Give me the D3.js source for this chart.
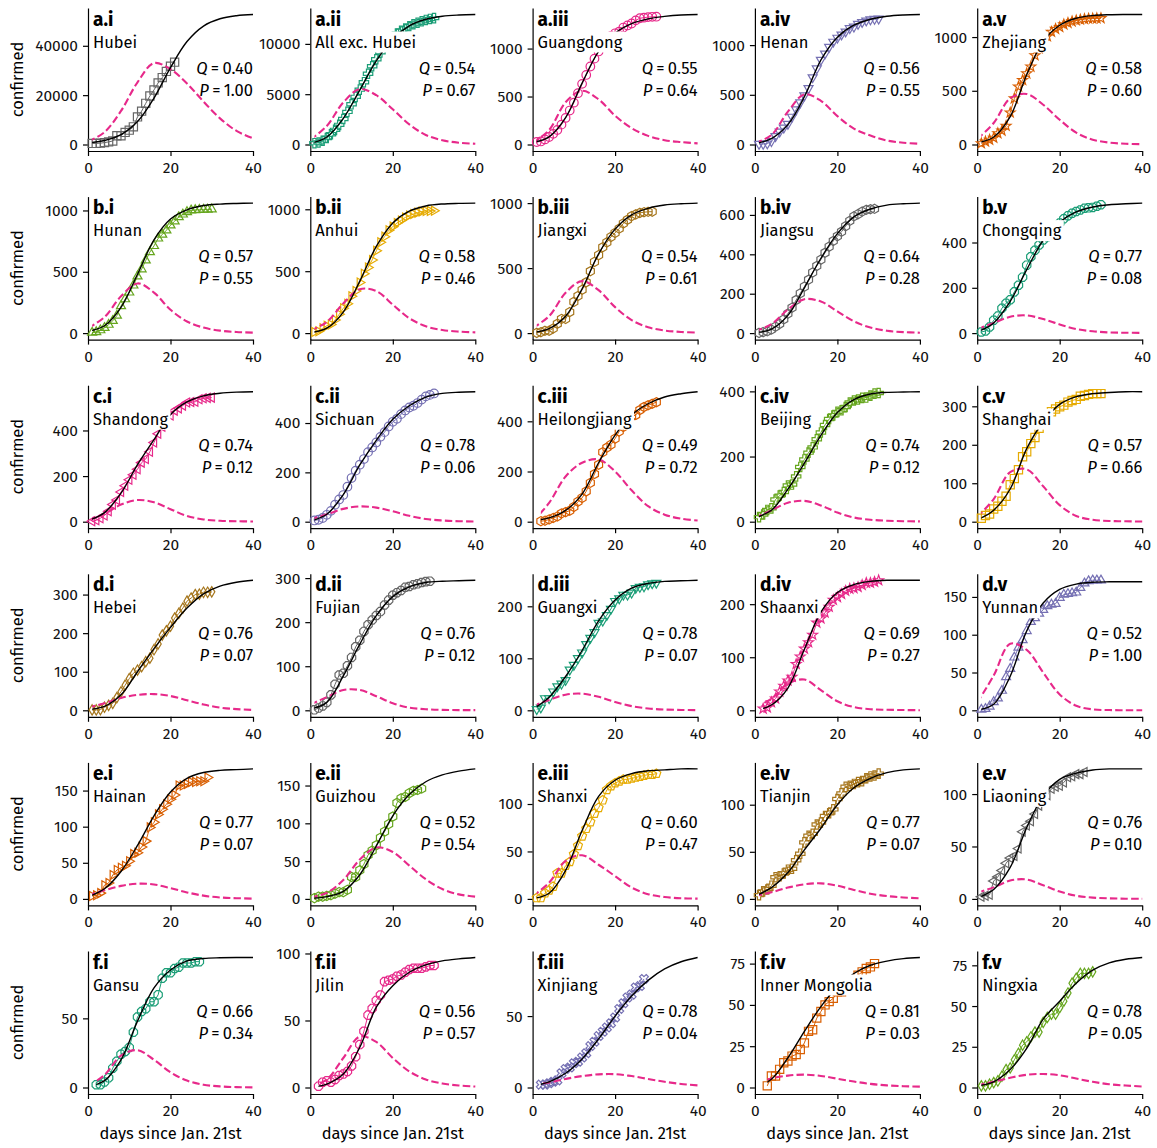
<!DOCTYPE html>
<html><head><meta charset="utf-8">
<script src="https://cdn.jsdelivr.net/npm/d3@7"></script>
<style>
body{margin:0;background:#fff;}
svg{font-family:"Fira Sans",Roboto,"Noto Sans",sans-serif;}
</style></head><body>
<svg id="chart" width="1157" height="1148"></svg>
<script>
// ---------------- DATA ----------------
const panelIds = ["a.i","a.ii","a.iii","a.iv","a.v","b.i","b.ii","b.iii","b.iv","b.v",
  "c.i","c.ii","c.iii","c.iv","c.v","d.i","d.ii","d.iii","d.iv","d.v",
  "e.i","e.ii","e.iii","e.iv","e.v","f.i","f.ii","f.iii","f.iv","f.v"];
const regionNames = ["Hubei","All exc. Hubei","Guangdong","Henan","Zhejiang","Hunan","Anhui","Jiangxi","Jiangsu","Chongqing",
  "Shandong","Sichuan","Heilongjiang","Beijing","Shanghai","Hebei","Fujian","Guangxi","Shaanxi","Yunnan",
  "Hainan","Guizhou","Shanxi","Tianjin","Liaoning","Gansu","Jilin","Xinjiang","Inner Mongolia","Ningxia"];
const qValues = ["0.40","0.54","0.55","0.56","0.58","0.57","0.58","0.54","0.64","0.77",
  "0.74","0.78","0.49","0.74","0.57","0.76","0.76","0.78","0.69","0.52",
  "0.77","0.52","0.60","0.77","0.76","0.66","0.56","0.78","0.81","0.78"];
const pValues = ["1.00","0.67","0.64","0.55","0.60","0.55","0.46","0.61","0.28","0.08",
  "0.12","0.06","0.72","0.12","0.66","0.07","0.12","0.07","0.27","1.00",
  "0.07","0.54","0.47","0.07","0.10","0.34","0.57","0.04","0.03","0.05"];
const yTicks = [[0,20000,40000],[0,5000,10000],[0,500,1000],[0,500,1000],[0,500,1000],
  [0,500,1000],[0,500,1000],[0,500,1000],[0,200,400,600],[0,200,400],
  [0,200,400],[0,200,400],[0,200,400],[0,200,400],[0,100,200,300],
  [0,100,200,300],[0,100,200,300],[0,100,200],[0,100,200],[0,50,100,150],
  [0,50,100,150],[0,50,100,150],[0,50,100],[0,50,100],[0,50,100],
  [0,50],[0,50,100],[0,50],[0,25,50,75],[0,25,50,75]];
const xTicks = [0,20,40];
// first day of the observed series (days since Jan. 21st)
const dataStart = [1,1,1,1,1,1,1,1,1,1, 1,1,2,1,1,1,1,1,2,1, 1,1,1,1,1,2,2,2,3,1];
// observed confirmed cases, one value per day from dataStart
const observed = [
 [444,444,549,761,1058,1423,3554,3554,4903,5806,7153,11177,13522,16678,19665,22112,24953,27100,29631,31728,33366],
 [127,199,371,645,1017,1454,1955,2533,3238,3996,4738,5453,6194,7029,7775,8475,9157,9714,10198,10626,11020,11300,11530,11750,11950,12100,12250,12380,12480,12560],
 [26,32,53,78,111,151,207,277,354,436,535,632,725,813,895,970,1034,1095,1131,1159,1177,1219,1241,1261,1294,1316,1322,1328,1331,1332],
 [5,5,9,32,83,128,168,206,278,352,422,493,566,675,764,851,914,981,1033,1073,1105,1135,1169,1184,1212,1231,1246,1257,1262,1265],
 [10,27,43,62,104,128,173,296,428,538,599,661,724,829,895,954,1006,1048,1075,1092,1117,1131,1145,1155,1162,1167,1171,1172,1174,1175],
 [4,9,24,43,69,100,143,221,277,332,389,463,521,593,661,711,772,803,838,879,912,946,968,988,1001,1004,1006,1007,1008,1010],
 [9,15,39,60,70,106,152,200,237,297,340,408,480,530,591,665,733,779,830,860,889,910,934,950,962,973,982,986,987,989],
 [2,7,18,18,36,72,109,109,162,240,286,333,391,476,548,600,661,698,740,771,804,844,872,900,913,925,930,933,934],
 [1,5,9,18,33,47,70,99,129,168,202,236,271,308,341,373,408,439,468,492,515,543,570,593,604,617,626,629,631],
 [5,9,27,57,75,110,132,147,182,211,247,300,337,366,389,411,426,428,468,486,505,518,529,537,544,551,553,555,560,567],
 [2,6,15,27,46,75,95,130,158,184,206,230,259,275,307,347,386,416,444,466,487,497,509,523,525,526,537,541,543,544],
 [5,8,15,28,44,69,90,108,142,177,207,231,254,282,301,321,344,363,386,405,417,436,451,463,470,481,495,508,514,520],
 [2,4,9,15,21,33,38,44,59,80,95,121,155,190,227,277,295,307,331,360,378,395,419,425,445,457,464,470,476],
 [14,22,36,41,68,80,91,111,114,139,168,191,212,228,253,274,297,315,326,337,342,352,366,372,375,380,381,387,393,395],
 [9,16,20,33,40,53,66,96,112,135,169,182,203,219,243,257,277,286,293,299,303,311,315,318,326,328,331,333,333,333],
 [1,1,2,8,13,18,33,48,65,82,96,104,113,126,135,157,172,195,206,218,239,251,265,283,291,300,301,306,306,307],
 [1,5,10,18,35,59,80,84,101,120,144,159,179,194,205,215,224,239,250,261,267,272,279,281,285,287,290,292,293],
 [2,5,23,23,36,46,51,58,78,87,100,111,127,139,150,168,172,183,195,210,215,222,222,226,235,237,238,242,244,245],
 [3,5,15,22,35,46,56,63,87,101,116,128,142,165,173,184,195,208,213,219,225,229,230,232,236,240,240,242,245],
 [1,2,5,11,16,26,44,55,70,83,93,105,117,122,128,133,138,140,141,149,153,154,155,156,162,168,171,172,172,172],
 [4,5,8,19,22,33,40,43,46,52,62,64,72,80,99,106,117,124,131,138,144,157,157,159,162,162,163,163,168],
 [1,3,3,4,5,7,9,9,12,29,29,38,46,58,64,71,81,89,99,109,127,133,135,140,143,144,146],
 [1,1,6,9,13,27,27,35,39,47,56,66,74,81,90,96,104,115,119,122,124,126,126,127,128,129,130,131,131,132],
 [4,8,10,14,23,24,27,31,32,41,48,60,67,69,79,81,88,91,95,106,112,119,120,122,124,125,128,130,131,133],
 [2,3,4,17,21,27,34,39,41,48,64,70,74,81,89,94,99,105,107,108,111,116,117,119,119,121],
 [2,2,4,7,14,19,24,26,29,40,51,55,57,62,62,67,79,83,83,86,87,90,90,90,91,91],
 [1,4,5,4,6,9,10,12,16,23,32,42,54,59,65,69,79,80,81,83,84,86,88,89,89,89,90,91,91],
 [2,2,3,4,5,10,13,14,17,18,21,24,29,32,36,39,42,45,49,55,59,63,65,70,71,76],
 [1,7,7,11,15,16,19,20,23,27,34,35,42,46,50,52,54,58,58,60,61,65,68,70,72,73,75],
 [1,1,2,3,4,7,11,12,17,21,26,28,31,34,34,40,43,45,45,49,53,58,64,67,70,70,70,71]
];
// model curves sampled every 4 days (days 0..40)
const curveDays = [0,4,8,12,16,20,24,28,32,36,40];
const fitValues = [
 [640,1630,4020,9300,18840,31150,41720,48000,50950,52190,52680],
 [100,750,2600,5400,8300,10500,11800,12450,12750,12870,12920],
 [20,80,280,640,970,1160,1260,1310,1335,1350,1355],
 [10,60,200,480,850,1080,1200,1260,1290,1303,1308],
 [15,70,260,650,960,1110,1175,1200,1208,1210,1210],
 [15,60,210,480,760,930,1005,1040,1052,1057,1060],
 [5,40,170,420,700,890,985,1027,1043,1048,1050],
 [5,35,130,340,610,800,910,960,985,995,1000],
 [3,20,90,230,380,505,590,630,650,657,660],
 [5,45,140,280,410,490,535,557,567,571,574],
 [5,40,125,250,360,470,525,552,563,568,570],
 [3,30,110,230,330,415,470,505,520,525,527],
 [5,15,45,110,235,345,425,470,497,510,518],
 [12,35,100,180,265,335,375,392,397,398,399],
 [5,30,85,190,260,305,325,333,336,338,338],
 [2,10,40,100,160,215,265,302,322,332,337],
 [3,18,78,150,215,258,280,290,293,294,295],
 [2,25,65,115,172,212,235,244,248,249,250],
 [0,10,42,115,185,222,237,243,245,245,245],
 [0.5,8,45,105,142,160,167,169.5,170,170,170],
 [3,14,38,74,115,148,167,175,178,179,180],
 [0.5,3,10,32,70,110,138,155,164,169,172],
 [0.5,6,30,72,108,125,132,135,136,137,137],
 [3,12,28,52,75,100,118,128,134,137,138],
 [1,9,30,68,98,114,120,123,124,124,124],
 [0.5,5,20,48,72,85,91.5,93.3,93.8,94,94],
 [0,2.5,10,30,60,76,86,91.5,94.5,96,97],
 [1,4,10,20,34,50,64,75,83,88,91],
 [0,5,18,34,49,61,69,74,76.5,78,78.7],
 [1,3.5,11,24,42,53,64,72,76.5,78.7,79.8]
];
const infectedValues = [
 [1200,5000,13600,25200,33000,30500,24700,17400,10600,5500,2500],
 [470,1840,4180,5500,4900,3500,2000,950,420,180,80],
 [20,150,440,560,470,300,170,90,45,25,12],
 [15,95,330,505,440,285,160,90,40,18,8],
 [50,200,430,470,370,230,110,45,18,7,3],
 [40,130,300,405,330,190,95,45,20,9,4],
 [20,90,240,355,340,230,120,55,25,12,6],
 [40,130,310,400,330,200,100,45,20,9,4],
 [10,45,120,172,160,110,60,28,12,5,2],
 [18,45,72,78,62,38,18,8,3,1.5,1],
 [10,35,75,95,85,55,25,10,4,2,1],
 [10,30,52,62,57,42,24,11,5,2,1],
 [0,75,180,235,248,200,125,62,28,12,5],
 [12,35,58,64,50,28,13,6,3,1.5,1],
 [12,59,129,136,92,43,15,5,2,1,0.5],
 [7,18,32,40,42,37,26,15,7,3,1],
 [13,30,46,46,32,16,6,2.5,1,0.5,0.3],
 [8,20,30,32,26,16,8,3.5,1.5,0.7,0.3],
 [5,22,50,58,38,17,6,2,1,0.5,0.2],
 [10,46,88,80,50,21,6,1.2,0.3,0.1,0.05],
 [5,12,18,21,20,15,9,4.5,2,1,0.4],
 [2,8,25,52,68,62,44,26,13,6,3],
 [3,17,40,46,36,24,12,5,2,0.7,0.3],
 [3,7,12,15.5,16.5,14,9.5,5.5,3,1.5,0.7],
 [6,11,17.5,18.5,13,7,3,1.2,0.5,0.2,0.1],
 [1,9,23,27,20,11,5,2,0.8,0.3,0.1],
 [0.5,6,22,38,34,22,12,6,3,1.5,0.7],
 [2,3.5,6,8,9.2,9.3,8,6,4,2.5,1.5],
 [3,5.5,7.2,7.8,7,5.3,3.6,2.2,1.3,0.8,0.5],
 [1.5,3.5,6,7.8,8.3,7.5,5.5,3.5,2,1.2,0.6]
];

// ---------------- STYLE ----------------
const palette = ["#666666","#1b9e77","#e7298a","#7570b3","#d95f02","#66a61e","#e6ab02","#a6761d"];
const markerTypes = ["square","plus","circle","triDown","star","triUp","triRight","hexagon","hexagon","octagon",
  "triLeft","circle","hexagon","plus","square","diamond","octagon","triDown","star","triUp",
  "triRight","hexagon","pentagon","plus","triLeft","octagon","octagon","xmark","square","diamond"];
const PINK = "#e7298a";

function poly(n, r, rotDeg) {
  const pts = [];
  for (let k = 0; k < n; k++) {
    const a = (rotDeg + k * 360 / n) * Math.PI / 180;
    pts.push([(r * Math.cos(a)).toFixed(2), (r * Math.sin(a)).toFixed(2)]);
  }
  return "M" + pts.map(p => p.join(",")).join("L") + "Z";
}
function crossPath(a, w, rot) {
  const base = [[-w,-a],[w,-a],[w,-w],[a,-w],[a,w],[w,w],[w,a],[-w,a],[-w,w],[-a,w],[-a,-w],[-w,-w]];
  const c = Math.cos(rot), s = Math.sin(rot);
  return "M" + base.map(([x,y]) => [(x*c - y*s).toFixed(2), (x*s + y*c).toFixed(2)].join(",")).join("L") + "Z";
}
function markerPath(t) {
  switch (t) {
    case "square": return "M-4.1,-4.1H4.1V4.1H-4.1Z";
    case "circle": return "M4.3,0A4.3,4.3 0 1,1 -4.3,0A4.3,4.3 0 1,1 4.3,0Z";
    case "triUp": return poly(3, 5.2, -90);
    case "triDown": return poly(3, 5.2, 90);
    case "triLeft": return poly(3, 5.2, 180);
    case "triRight": return poly(3, 5.2, 0);
    case "hexagon": return poly(6, 4.6, -90);
    case "octagon": return poly(8, 4.5, 22.5);
    case "pentagon": return poly(5, 4.7, -90);
    case "diamond": return "M0,-5.2L3.1,0L0,5.2L-3.1,0Z";
    case "plus": return crossPath(4.7, 1.6, 0);
    case "xmark": return crossPath(4.7, 1.6, Math.PI / 4);
    case "star": {
      const pts = [];
      for (let k = 0; k < 10; k++) {
        const r = k % 2 ? 2.1 : 5.2, a = (-90 + k * 36) * Math.PI / 180;
        pts.push((r * Math.cos(a)).toFixed(2) + "," + (r * Math.sin(a)).toFixed(2));
      }
      return "M" + pts.join("L") + "Z";
    }
  }
}

// ---------------- LAYOUT ----------------
const LEFT0 = 88, TOP0 = 8, COLW = 222.3, ROWH = 188.6, PW = 165, PH = 143;
const TXT = "16.5px";
const svg = d3.select("#chart");
svg.append("rect").attr("width", 1157).attr("height", 1148).attr("fill", "#fff");

panelIds.forEach((id, i) => {
  const r = Math.floor(i / 5), c = i % 5;
  const g = svg.append("g").attr("transform", `translate(${LEFT0 + c * COLW},${TOP0 + r * ROWH})`);
  const color = palette[i % palette.length];
  const obs = observed[i].map((v, k) => [dataStart[i] + k, v]);
  const fit = curveDays.map((d, k) => [d, fitValues[i][k]]);
  const inf = curveDays.map((d, k) => [d, infectedValues[i][k]]);
  const M = d3.max([...fitValues[i], ...observed[i]]);
  const x = d3.scaleLinear().domain([0, 40]).range([0, PW]);
  const y = d3.scaleLinear().domain([-0.05 * M, 1.05 * M]).range([PH, 0]);

  const clipId = "clip" + i;
  g.append("clipPath").attr("id", clipId).append("rect")
    .attr("x", x(dataStart[i])).attr("y", -20).attr("width", PW - x(dataStart[i]) + 2).attr("height", PH + 40);

  // axes
  const ya = g.append("g").call(d3.axisLeft(y).tickValues(yTicks[i]).tickFormat(d3.format("d")).tickSize(5).tickSizeOuter(0).tickPadding(5));
  const xa = g.append("g").attr("transform", `translate(0,${PH})`)
    .call(d3.axisBottom(x).tickValues(xTicks).tickFormat(d3.format("d")).tickSize(5).tickSizeOuter(0).tickPadding(6));
  [ya, xa].forEach(a => {
    a.attr("font-family", null).attr("font-size", null);
    a.selectAll("text").style("font-size", "15.5px").attr("fill", "#111");
    a.select(".domain").attr("stroke-width", 1.2);
    a.selectAll(".tick line").attr("stroke-width", 1.2);
  });

  // observed data: thin line + open markers
  g.append("path").datum(obs)
    .attr("d", d3.line().x(d => x(d[0])).y(d => y(d[1])))
    .attr("fill", "none").attr("stroke", color).attr("stroke-width", 1);
  g.append("g").selectAll("path").data(obs).join("path")
    .attr("transform", d => `translate(${x(d[0])},${y(d[1])})`)
    .attr("d", markerPath(markerTypes[i]))
    .attr("fill", "none").attr("stroke", color).attr("stroke-width", 1.2);

  const cl = g.append("g").attr("clip-path", `url(#${clipId})`);
  cl.append("path").datum(inf)
    .attr("d", d3.line().curve(d3.curveCatmullRom).x(d => x(d[0])).y(d => y(Math.max(0, d[1]))))
    .attr("fill", "none").attr("stroke", PINK).attr("stroke-width", 2.1).attr("stroke-dasharray", "7.4,3.2");
  cl.append("path").datum(fit)
    .attr("d", d3.line().curve(d3.curveCatmullRom).x(d => x(d[0])).y(d => y(d[1])))
    .attr("fill", "none").attr("stroke", "#000").attr("stroke-width", 1.4);

  // labels
  g.append("text").attr("x", 5).attr("y", 17.5).text(id)
    .style("font-size", "19px").style("font-weight", "bold");
  const nameG = g.append("g");
  const nt = nameG.append("text").attr("x", 5).attr("y", 39.5).text(regionNames[i]).style("font-size", TXT);
  const bb = nt.node().getBBox();
  nameG.insert("rect", "text").attr("x", bb.x - 2).attr("y", bb.y - 1)
    .attr("width", bb.width + 4).attr("height", bb.height + 2).attr("fill", "#fff");

  const qt = g.append("text").attr("x", PW).attr("y", 65.5).attr("text-anchor", "end").style("font-size", TXT);
  qt.append("tspan").style("font-style", "italic").text("Q");
  qt.append("tspan").text("\u2009=\u2009" + qValues[i]);
  const pt = g.append("text").attr("x", PW).attr("y", 87.5).attr("text-anchor", "end").style("font-size", TXT);
  pt.append("tspan").style("font-style", "italic").text("P");
  pt.append("tspan").text("\u2009=\u2009" + pValues[i]);

  if (c === 0) {
    g.append("text").attr("transform", `translate(-65,${PH / 2}) rotate(-90)`)
      .attr("text-anchor", "middle").style("font-size", TXT).text("confirmed");
  }
  if (r === 5) {
    g.append("text").attr("x", PW / 2).attr("y", PH + 45).attr("text-anchor", "middle")
      .style("font-size", TXT).text("days since Jan. 21st");
  }
});
</script>
</body></html>
